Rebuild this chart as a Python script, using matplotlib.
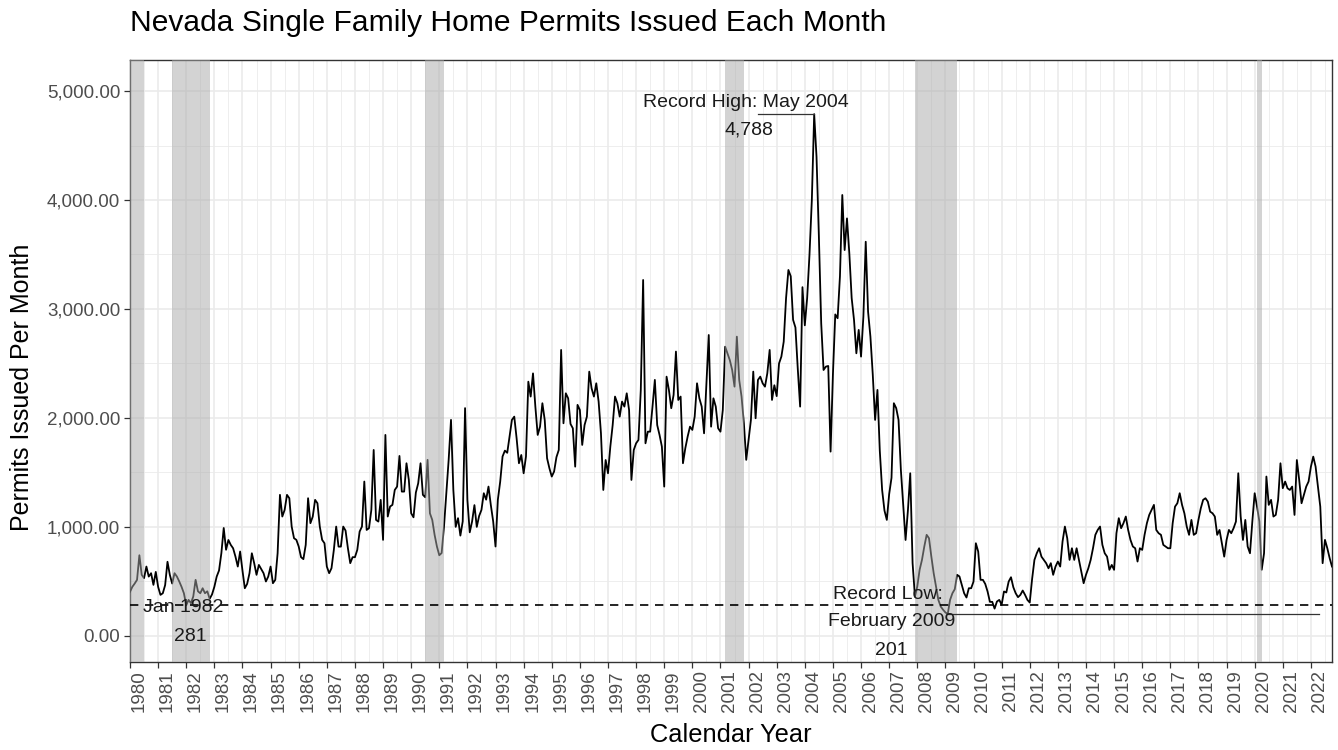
import matplotlib
matplotlib.use("Agg")
import matplotlib.pyplot as plt
import matplotlib.ticker as mticker
import matplotlib.transforms as mtransforms
import numpy as np

plt.rcParams['font.family'] = ['Liberation Sans', 'DejaVu Sans']

# ---------------- data (monthly permits, Jan 1980 onward) ----------------
start_year = 1980

permits_1980s = [
    404, 450, 480, 514, 740, 560, 530, 636, 544, 575, 468, 587,
    450, 376, 391, 466, 680, 560, 480, 575, 545, 500, 450, 391,
    281, 330, 300, 361, 514, 409, 391, 437, 391, 409, 340, 380,
    450, 544, 600, 760, 990, 790, 880, 835, 804, 728, 636, 774,
    600, 437, 477, 575, 758, 667, 560, 651, 612, 575, 499, 544,
    636, 483, 514, 758, 1294, 1095, 1156, 1294, 1263, 1003, 896, 881,
    820, 722, 704, 835, 1263, 1034, 1095, 1248, 1217, 1003, 881, 850,
    636, 575, 621, 789, 1003, 819, 819, 1003, 966, 804, 667, 722,
    722, 789, 957, 1003, 1416, 972, 988, 1156, 1706, 1064, 1049, 1248,
    881, 1844, 1095, 1187, 1202, 1339, 1370, 1651, 1324, 1324, 1584, 1431,
]

permits_1990s = [
    1125, 1088, 1315, 1400, 1584, 1294, 1272, 1615, 1125, 1064, 927, 819,
    740, 760, 1000, 1309, 1615, 1982, 1339, 1000, 1080, 920, 1050, 2090,
    1248, 950, 1050, 1200, 1000, 1100, 1156, 1309, 1250, 1370, 1200, 1050,
    820, 1250, 1416, 1646, 1700, 1680, 1829, 1982, 2012, 1813, 1584, 1660,
    1492, 1646, 2333, 2196, 2409, 2104, 1844, 1920, 2135, 1981, 1630, 1538,
    1462, 1508, 1640, 1706, 2624, 1951, 2226, 2180, 1945, 1905, 1553, 2120,
    2073, 1752, 1935, 2012, 2425, 2272, 2196, 2318, 2150, 1859, 1339, 1614,
    1492, 1737, 1935, 2196, 2135, 2012, 2150, 2104, 2226, 2073, 1431, 1706,
    1767, 1798, 2257, 3266, 1767, 1874, 1874, 2104, 2349, 1935, 1844, 1737,
    1370, 2379, 2257, 2089, 2211, 2609, 2165, 2196, 1584, 1722, 1829, 1920,
]

permits_2000s = [
    1890, 2012, 2318, 2180, 2104, 1859, 2300, 2761, 1920, 2180, 2104, 1905,
    1874, 2073, 2654, 2593, 2530, 2440, 2287, 2746, 2349, 2196, 1951, 1615,
    1798, 1981, 2425, 1997, 2349, 2379, 2318, 2287, 2410, 2624, 2165, 2300,
    2200, 2500, 2563, 2700, 3100, 3358, 3300, 2900, 2830, 2450, 2104, 3200,
    2850, 3100, 3500, 4000, 4788, 4396, 3670, 2868, 2440, 2471, 2477, 1691,
    2400, 2950, 2915, 3300, 4046, 3541, 3831, 3510, 3100, 2900, 2593, 2808,
    2563, 2930, 3617, 2976, 2746, 2400, 1982, 2257, 1700, 1339, 1150, 1064,
    1300, 1450, 2135, 2090, 1982, 1523, 1202, 880, 1150, 1492, 667, 361,
    453, 606, 697, 820, 927, 896, 728, 575, 453, 330, 269, 240,
    215, 201, 330, 391, 428, 560, 545, 468, 391, 352, 437, 437,
]

permits_2010s = [
    498, 850, 774, 514, 514, 477, 407, 312, 312, 250, 315, 330,
    285, 407, 398, 498, 538, 446, 391, 355, 376, 416, 376, 330,
    306, 520, 697, 758, 804, 727, 697, 667, 620, 667, 560, 636,
    682, 636, 866, 1003, 896, 697, 804, 697, 804, 697, 590, 483,
    560, 620, 697, 804, 927, 972, 1003, 835, 758, 727, 606, 651,
    606, 942, 1080, 988, 1034, 1095, 972, 880, 820, 804, 682, 804,
    789, 927, 1034, 1110, 1156, 1202, 972, 942, 927, 835, 820, 804,
    804, 1034, 1186, 1217, 1309, 1202, 1125, 1003, 927, 1064, 927, 942,
    1064, 1171, 1248, 1263, 1232, 1140, 1125, 1095, 927, 972, 850, 727,
    880, 972, 942, 988, 1049, 1492, 1100, 880, 1064, 820, 758, 1050,
]

permits_2020s = [
    1309, 1186, 1050, 606, 758, 1462, 1202, 1248, 1095, 1110, 1248, 1584,
    1355, 1416, 1355, 1339, 1370, 1110, 1614, 1431, 1217, 1294, 1370, 1416,
    1553, 1645, 1553, 1370, 1186, 667, 881, 804, 713, 636,
]

# NBER recessions (decimal years)
recession_start = [1980.0, 1981.5, 1990.5, 2001 + 2 / 12, 2007 + 11 / 12, 2020 + 1 / 12]
recession_end = [1980.5, 1982 + 10 / 12, 1991 + 2 / 12, 2001 + 10 / 12, 2009 + 5 / 12, 2020 + 3 / 12]

year_ticks = list(range(1980, 2023))
y_ticks = [0, 1000, 2000, 3000, 4000, 5000]

record_high_value = 4788
record_high_date = 2004 + 4 / 12
record_low_value = 201
record_low_date = 2009 + 1 / 12
prior_low_value = 281

title = "Nevada Single Family Home Permits Issued Each Month"
ylabel = "Permits Issued Per Month"
xlabel = "Calendar Year"

# ---------------- figure ----------------
permits = permits_1980s + permits_1990s + permits_2000s + permits_2010s + permits_2020s
t = start_year + np.arange(len(permits)) / 12.0

W, H = 1338, 750
fig = plt.figure(figsize=(W / 100, H / 100), dpi=100)
L, R, T, B = 130, 1332, 60, 662
ax = fig.add_axes([L / W, 1 - B / H, (R - L) / W, (B - T) / H])

ax.set_xlim(t[0], t[-1])
ax.set_ylim(-240, 5285)

grid_c = "#EBEBEB"
ax.set_axisbelow(True)
ax.set_xticks(year_ticks)
ax.set_yticks(y_ticks)
ax.xaxis.set_minor_locator(mticker.MultipleLocator(0.5))
ax.yaxis.set_minor_locator(mticker.MultipleLocator(500))
ax.grid(which="major", color=grid_c, lw=1.2)
ax.grid(which="minor", color=grid_c, lw=0.6)
ax.tick_params(which="minor", length=0)
ax.tick_params(which="major", length=4, width=0.9, color="#333333",
               labelcolor="#4D4D4D", labelsize=13.5)
ax.tick_params(axis="x", pad=2)
ax.tick_params(axis="y", pad=3)
ax.yaxis.set_major_formatter(mticker.FuncFormatter(lambda v, p: f"{v:,.2f}"))
ax.set_xticklabels([str(y) for y in year_ticks], rotation=90)
offset = mtransforms.ScaledTranslation(9 / 100, 0, fig.dpi_scale_trans)
for lab in ax.xaxis.get_majorticklabels():
    lab.set_transform(lab.get_transform() + offset)

for s in ax.spines.values():
    s.set_color("#333333")
    s.set_linewidth(1.0)

# series
ax.plot(t, permits, color="black", lw=1.3, zorder=3)

# recession shading (drawn over line)
for s0, s1 in zip(recession_start, recession_end):
    ax.axvspan(s0, s1, color="#A9A9A9", alpha=0.5, lw=0, zorder=4)

# reference lines
ax.axhline(prior_low_value, color="black", lw=1.2, ls=(0, (5, 4)), zorder=5)
ax.plot([2002.33, record_high_date], [record_high_value, record_high_value],
        color="#333333", lw=0.9, zorder=5)
ax.plot([record_low_date, 2022.27], [record_low_value, record_low_value],
        color="#333333", lw=0.9, zorder=5)

ann_kw = dict(fontsize=14, color="#1A1A1A", ha="center", va="center", zorder=6)
ax.text(2001.9, 4895, "Record High: May 2004", **ann_kw)
ax.text(2002.0, 4640, f"{record_high_value:,}", **ann_kw)
ax.text(2006.96, 380, "Record Low:", **ann_kw)
ax.text(2007.07, 128, "February 2009", **ann_kw)
ax.text(2007.07, -138, f"{record_low_value:,}", **ann_kw)
ax.text(1981.9, 262, "Jan 1982", **ann_kw)
ax.text(1982.15, -5, f"{prior_low_value:,}", **ann_kw)

# titles
fig.text(L / W, 1 - 23 / H, title, fontsize=21.6, ha="left", va="center", color="black")
fig.text(22 / W, 1 - 387 / H, ylabel, fontsize=18, rotation=90,
         ha="center", va="center", color="black")
fig.text((L + R) / 2 / W, 1 - 735 / H, xlabel, fontsize=18.3, ha="center", va="center")

fig.savefig("out.png", dpi=100, facecolor="white")
